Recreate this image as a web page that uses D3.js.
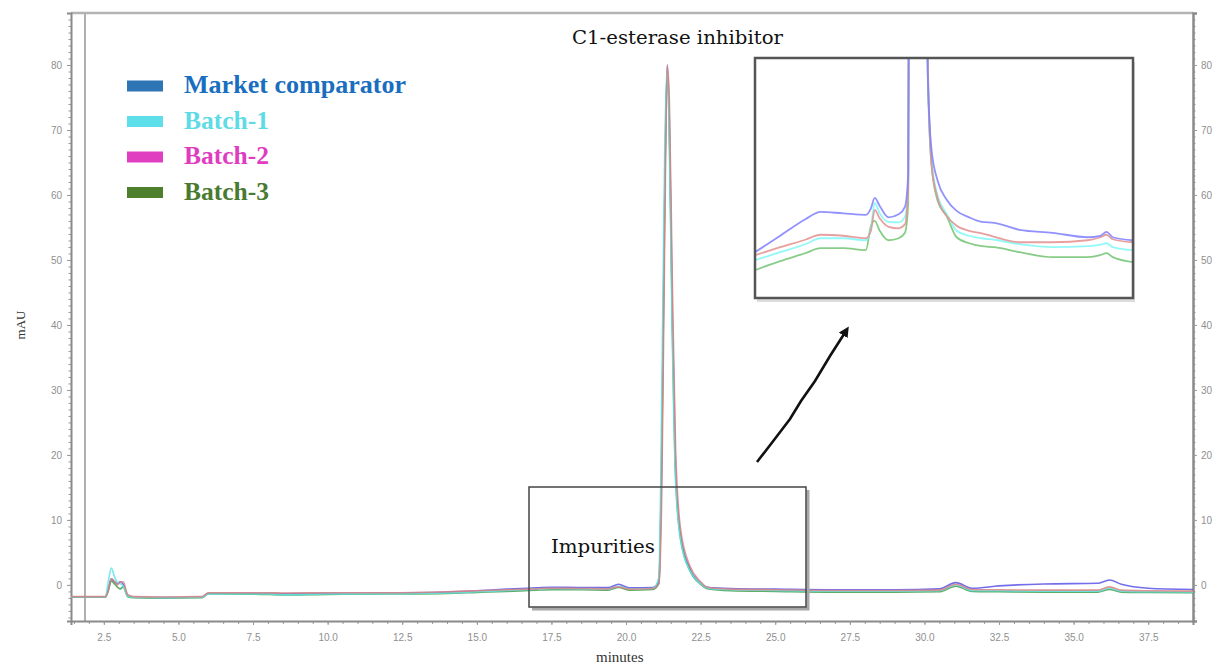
<!DOCTYPE html>
<html>
<head>
<meta charset="utf-8">
<script src="https://d3js.org/d3.v7.min.js"></script>
<style>
  body { margin: 0; background: #fff; }
  svg { display: block; }
</style>
</head>
<body>
<svg class="target" width="1215" height="664"></svg>
<script>

// ---- data ----
const seriesNames = ['Market comparator', 'Batch-1', 'Batch-2', 'Batch-3']
const legendColors = ['#2e75b6', '#5ddfea', '#e040c0', '#4e7f2e']
const legendTextColors = ['#1a6ec0', '#5fdbe6', '#df3dbf', '#4a7a30']
const traceColors = ['#5b55e6', '#62e6e6', '#d98484', '#3f9f4c']
const insetColors = ['#7f7fff', '#7ff7f7', '#e38f8f', '#72c472']

const mainTime = [1.4, 2.55, 2.65, 2.75, 2.85, 2.95, 3.05, 3.15, 3.3, 3.5, 4.5, 5.8, 6.0, 8.0, 8.5, 10.0, 12.0, 14.0,
  15.0, 16.0, 17.0, 17.5, 18.5, 19.4, 19.75, 20.1, 20.9, 21.1, 21.2, 21.3, 21.38, 21.45, 21.55, 21.66, 21.83, 22.16,
  22.5, 22.73, 23.5, 25.0, 27.0, 29.0, 30.5, 31.05, 31.6, 32.5, 34.0, 35.8, 36.2, 36.6, 37.5, 39.0]

const marketComparator = [-1.85, -1.85, -0.6, 0.9, 0.5, 0.2, 0.5, 0.1, -1.6, -1.9, -1.95, -1.85, -1.3, -1.3, -1.35, -1.3, -1.25, -1.1,
  -0.9, -0.65, -0.45, -0.35, -0.4, -0.4, 0.1, -0.45, -0.4, 0.5, 22, 62, 80, 72, 42, 18, 7.5, 2.3,
  0.3, -0.35, -0.55, -0.65, -0.75, -0.75, -0.6, 0.35, -0.5, -0.15, 0.15, 0.25, 0.75, 0.1, -0.5, -0.7]
const batch1 = [-1.85, -1.85, 0.5, 2.6, 1.4, 0.4, 0.2, -0.2, -1.7, -1.9, -1.95, -1.9, -1.4, -1.4, -1.5, -1.4, -1.35, -1.25,
  -1.05, -0.85, -0.65, -0.55, -0.6, -0.65, -0.2, -0.6, -0.55, 1.2, 30, 68, 79.5, 68, 38, 16, 6.8, 2.0,
  0.2, -0.5, -0.75, -0.85, -0.95, -0.95, -0.9, 0.0, -0.85, -0.9, -0.95, -0.95, -0.5, -0.95, -1.05, -1.1]
const batch2 = [-1.8, -1.8, -0.8, 1.0, 0.6, 0.0, 0.4, 0.5, -1.5, -1.8, -1.85, -1.8, -1.2, -1.2, -1.25, -1.2, -1.2, -1.05,
  -0.9, -0.75, -0.6, -0.5, -0.55, -0.6, -0.3, -0.65, -0.55, 0.2, 15, 55, 80, 75, 47, 21, 8.5, 2.7,
  0.5, -0.4, -0.65, -0.75, -0.85, -0.85, -0.8, 0.1, -0.7, -0.75, -0.8, -0.8, -0.3, -0.8, -0.9, -0.95]
const batch3 = [-1.9, -1.9, -0.9, 0.6, 0.2, -0.3, -0.6, -0.3, -1.8, -1.95, -2.0, -1.95, -1.35, -1.45, -1.55, -1.45, -1.4, -1.3,
  -1.15, -1.0, -0.8, -0.75, -0.75, -0.8, -0.4, -0.8, -0.7, 0.2, 20, 60, 79, 70, 40, 17, 7.0, 2.0,
  0.1, -0.6, -0.9, -1.0, -1.1, -1.1, -1.05, -0.2, -1.0, -1.05, -1.1, -1.1, -0.7, -1.1, -1.15, -1.2]

// magnified view shown in the inset
const insetTime = [15.0, 16.0, 17.0, 17.6, 18.5, 19.4, 19.6, 19.75, 19.95, 20.3, 20.7, 20.95, 21.08, 21.2, 21.43, 21.7,
  21.85, 22.0, 22.25, 22.6, 23.0, 23.5, 24.0, 24.5, 25.5, 26.8, 28.2, 28.7, 28.95, 29.2, 30.0]
const insetMarket = [-1.28, -0.95, -0.62, -0.47, -0.5, -0.53, -0.4, -0.19, -0.35, -0.58, -0.52, -0.37, 0.3, 20, 80, 20,
  2.4, 0.8, 0.15, -0.22, -0.45, -0.58, -0.67, -0.69, -0.83, -0.89, -0.98, -0.95, -0.87, -0.98, -1.04]
const insetBatch1 = [-1.44, -1.28, -1.12, -1.0, -1.0, -1.04, -0.8, -0.29, -0.5, -0.67, -0.68, -0.57, 0.1, 20, 80, 20,
  2.7, 0.6, -0.15, -0.5, -0.85, -0.95, -1.0, -1.03, -1.12, -1.18, -1.16, -1.13, -1.1, -1.18, -1.24]
const insetBatch2 = [-1.34, -1.18, -1.03, -0.93, -0.95, -1.0, -0.85, -0.43, -0.6, -0.77, -0.8, -0.72, -0.03, 20, 80, 20,
  2.8, 0.51, -0.2, -0.55, -0.75, -0.85, -0.9, -0.97, -1.08, -1.08, -1.04, -0.98, -0.93, -1.02, -1.08]
const insetBatch3 = [-1.64, -1.46, -1.3, -1.2, -1.2, -1.24, -0.75, -0.65, -0.85, -1.04, -1.0, -0.89, -0.3, 20, 80, 20,
  2.5, 0.5, -0.25, -0.55, -0.98, -1.1, -1.16, -1.18, -1.28, -1.38, -1.38, -1.34, -1.3, -1.38, -1.48]

const xTicks = [2.5, 5.0, 7.5, 10.0, 12.5, 15.0, 17.5, 20.0, 22.5, 25.0, 27.5, 30.0, 32.5, 35.0, 37.5]
const yTicks = [0, 10, 20, 30, 40, 50, 60, 70, 80]

// ---- layout ----
const width = 1215, height = 664
const svg = d3.select('.target').attr('width', width).attr('height', height)

const x = d3.scaleLinear([1.4, 39.0], [71, 1193])
const y = d3.scaleLinear([-5.55, 88], [621, 13])

const tickFont = g => g.selectAll('text')
  .attr('fill', '#8f8f8f')
  .style('font', '10px "Liberation Sans", Arial, sans-serif')

// frame lines
svg.append('line').attr('x1', 71).attr('x2', 1193).attr('y1', 13).attr('y2', 13)
  .attr('stroke', '#b4b4b4').attr('stroke-width', 2.5)
svg.append('line').attr('x1', 85).attr('x2', 85).attr('y1', 13).attr('y2', 621)
  .attr('stroke', '#b0b0b0').attr('stroke-width', 2)

// minor ticks
const minorY = d3.range(-5, 88, 1)
const minorX = d3.range(1.5, 39.01, 0.5)

svg.append('g')
    .attr('transform', `translate(71,0)`)
    .call(d3.axisLeft(y).tickValues(minorY).tickSize(2.5).tickFormat(''))
    .call(g => g.selectAll('line,path').attr('stroke', '#999'))
svg.append('g')
    .attr('transform', `translate(1193,0)`)
    .call(d3.axisRight(y).tickValues(minorY).tickSize(2.5).tickFormat(''))
    .call(g => g.selectAll('line,path').attr('stroke', '#999'))
svg.append('g')
    .attr('transform', `translate(0,621)`)
    .call(d3.axisBottom(x).tickValues(minorX).tickSize(3).tickFormat(''))
    .call(g => g.selectAll('line,path').attr('stroke', '#999'))

// major axes
svg.append('g')
    .attr('transform', `translate(71,0)`)
    .call(d3.axisLeft(y).tickValues(yTicks).tickSize(4).tickPadding(5).tickFormat(d3.format('d')))
    .call(g => g.select('.domain').attr('stroke', '#8a8a8a').attr('stroke-width', 2))
    .call(g => g.selectAll('.tick line').attr('stroke', '#999'))
    .call(tickFont)
svg.append('g')
    .attr('transform', `translate(1193,0)`)
    .call(d3.axisRight(y).tickValues(yTicks).tickSize(4).tickPadding(4).tickFormat(d3.format('d')))
    .call(g => g.select('.domain').attr('stroke', '#8a8a8a').attr('stroke-width', 2.5))
    .call(g => g.selectAll('.tick line').attr('stroke', '#999'))
    .call(tickFont)
svg.append('g')
    .attr('transform', `translate(0,621)`)
    .call(d3.axisBottom(x).tickValues(xTicks).tickSize(4).tickPadding(9).tickFormat(d3.format('.1f')))
    .call(g => g.select('.domain').attr('stroke', '#8a8a8a').attr('stroke-width', 2))
    .call(g => g.selectAll('.tick line').attr('stroke', '#999'))
    .call(tickFont)

// axis titles
svg.append('text')
    .attr('transform', 'translate(25,325) rotate(-90)')
    .attr('text-anchor', 'middle')
    .attr('fill', '#333')
    .style('font', '13px "Liberation Serif", serif')
    .text('mAU')
svg.append('text')
    .attr('x', 596).attr('y', 662)
    .attr('fill', '#333')
    .style('font', '15px "Liberation Serif", serif')
    .text('minutes')

// ---- traces ----
const mainSeries = [marketComparator, batch1, batch2, batch3]
const line = d3.line()
  .x(d => x(d[0]))
  .y(d => y(d[1]))
  .curve(d3.curveMonotoneX)

const drawOrder = [0, 3, 1, 2]
svg.append('g')
  .selectAll('path')
  .data(drawOrder)
  .join('path')
    .attr('d', i => line(mainTime.map((t, k) => [t, mainSeries[i][k]])))
    .attr('fill', 'none')
    .attr('stroke', i => traceColors[i])
    .attr('stroke-width', 1.6)
    .attr('stroke-opacity', 0.85)

// ---- title + annotations ----
svg.append('text')
    .attr('x', 572).attr('y', 44)
    .attr('textLength', 211).attr('lengthAdjust', 'spacingAndGlyphs')
    .attr('fill', '#111')
    .style('font', '19px "DejaVu Serif", serif')
    .text('C1-esterase inhibitor')

// impurities box (with a soft shadow on the right and bottom)
svg.append('path')
    .attr('d', d3.line()([[808, 490], [808, 609], [532, 609]]))
    .attr('fill', 'none').attr('stroke', '#a8a8a8').attr('stroke-width', 3)
svg.append('rect')
    .attr('x', 529).attr('y', 487).attr('width', 277).attr('height', 120)
    .attr('fill', 'none').attr('stroke', '#444').attr('stroke-width', 1.5)
svg.append('text')
    .attr('x', 551).attr('y', 553)
    .attr('textLength', 104).attr('lengthAdjust', 'spacingAndGlyphs')
    .attr('fill', '#111')
    .style('font', '18px "DejaVu Serif", serif')
    .text('Impurities')

// arrow
const defs = svg.append('defs')
defs.append('marker')
    .attr('id', 'head')
    .attr('viewBox', '0 0 10 10')
    .attr('refX', 5).attr('refY', 5)
    .attr('markerWidth', 4).attr('markerHeight', 4)
    .attr('orient', 'auto')
  .append('path')
    .attr('d', 'M0,0 L10,5 L0,10 z')
    .attr('fill', '#111')
svg.append('path')
    .attr('d', d3.line()([[757, 462], [774, 440], [790, 419], [801, 401], [815, 381], [830, 356], [846, 331]]))
    .attr('fill', 'none').attr('stroke', '#111').attr('stroke-width', 2.6)
    .attr('marker-end', 'url(#head)')

// ---- inset ----
const ix = d3.scaleLinear([15, 30], [755, 1133])
const iy = d3.scaleLinear([-2.2, 2.6], [298, 59])

defs.append('clipPath').attr('id', 'insetClip')
  .append('rect').attr('x', 755).attr('y', 59).attr('width', 378).attr('height', 239)

svg.append('rect')
    .attr('x', 757).attr('y', 62).attr('width', 378).attr('height', 240)
    .attr('fill', '#ddd')
svg.append('rect')
    .attr('x', 755).attr('y', 58).attr('width', 378).attr('height', 240)
    .attr('fill', '#fff')

const insetSeries = [insetMarket, insetBatch1, insetBatch2, insetBatch3]
const insetLine = d3.line()
  .x(d => ix(d[0]))
  .y(d => iy(d[1]))
  .curve(d3.curveMonotoneX)

svg.append('g')
    .attr('clip-path', 'url(#insetClip)')
  .selectAll('path')
  .data([3, 1, 2, 0])
  .join('path')
    .attr('d', i => insetLine(insetTime.map((t, k) => [t, insetSeries[i][k]])))
    .attr('fill', 'none')
    .attr('stroke', i => insetColors[i])
    .attr('stroke-width', 1.8)
    .attr('stroke-opacity', 0.85)

svg.append('rect')
    .attr('x', 755).attr('y', 58).attr('width', 378).attr('height', 240)
    .attr('fill', 'none').attr('stroke', '#555').attr('stroke-width', 2.5)

// ---- legend ----
const legend = svg.append('g')
  .selectAll('g')
  .data(seriesNames)
  .join('g')
    .attr('transform', (d, i) => `translate(127,${86 + i * 35.5})`)

legend.append('rect')
    .attr('x', 0).attr('y', -5.5).attr('width', 36).attr('height', 11)
    .attr('fill', (d, i) => legendColors[i])

legend.append('text')
    .attr('x', 57).attr('y', 7)
    .attr('textLength', (d, i) => i === 0 ? 222 : 85)
    .attr('lengthAdjust', 'spacingAndGlyphs')
    .attr('fill', (d, i) => legendTextColors[i])
    .style('font', 'bold 25px "Liberation Serif", "Times New Roman", serif')
    .text(d => d)

</script>
</body>
</html>
